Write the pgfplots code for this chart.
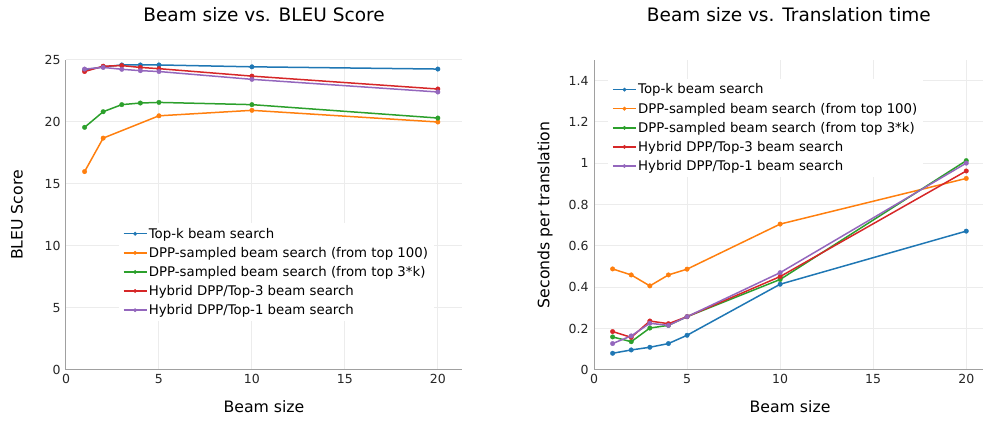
\documentclass[border=0pt]{standalone}
\usepackage{pgfplots}
\pgfplotsset{compat=1.18}
\usepackage{fontspec}
\setmainfont{DejaVu Sans}
\definecolor{cA}{HTML}{1F77B4}
\definecolor{cB}{HTML}{FF7F0E}
\definecolor{cC}{HTML}{2CA02C}
\definecolor{cD}{HTML}{D62728}
\definecolor{cE}{HTML}{9467BD}
\definecolor{gridc}{RGB}{236,236,236}
\definecolor{axc}{RGB}{160,160,160}
\pgfplotsset{
  common/.style={
    scale only axis, height=310pt,
    axis x line=bottom, axis y line=left,
    axis line style={color=axc, line width=1pt, -},
    major tick length=0pt,
    grid=major, major grid style={color=gridc, line width=1pt},
    tick label style={font=\fontsize{12.5}{14}\selectfont, text=black!85},
    /pgf/number format/assume math mode=true,
    xmin=0, ymin=0,
    xtick={0,5,10,15,20},
    xticklabel style={yshift=-1pt},
    yticklabel style={xshift=-2pt},
    label style={font=\fontsize{15.7}{18}\selectfont},
    title style={font=\fontsize{18.5}{21}\selectfont, anchor=center},
    every axis plot/.append style={line width=1.5pt, mark=*, mark size=2.3pt, mark options={line width=0.3pt}},
    legend cell align=left,
    legend image code/.code={\draw[#1] (0pt,0pt) -- (23pt,0pt); \draw[#1, only marks, mark size=1.8pt] plot coordinates {(11.5pt,0pt)};},
    legend style={draw=none, fill=white, font=\fontsize{13.3}{15}\selectfont, row sep=3.5pt, inner xsep=4pt, inner ysep=3pt,
      nodes={inner xsep=1.5pt}},
  }
}
\begin{document}
\begin{tikzpicture}
\useasboundingbox (0,0) rectangle (983pt,428pt);
\begin{axis}[common, at={(66pt,58pt)}, anchor=south west, width=396pt,
  xmax=21.3, ymax=25, ytick={0,5,10,15,20,25},
  title={Beam size vs. BLEU Score}, title style={at={(axis description cs:0.5,1.128)}},
  xlabel={Beam size}, xlabel style={at={(axis description cs:0.5,-0.119)}, anchor=center},
  ylabel={BLEU Score}, ylabel style={at={(axis description cs:-0.124,0.5)}, anchor=center},
  legend style={at={(axis description cs:0.133,0.475)}, anchor=north west}]
\addplot[color=cA] coordinates {(1,24.2) (2,24.45) (3,24.6) (4,24.6) (5,24.6) (10,24.45) (20,24.27)};
\addplot[color=cB] coordinates {(1,16.0) (2,18.7) (5,20.5) (10,20.94) (20,20.0)};
\addplot[color=cC] coordinates {(1,19.57) (2,20.83) (3,21.4) (4,21.53) (5,21.58) (10,21.4) (20,20.32)};
\addplot[color=cD] coordinates {(1,24.07) (2,24.5) (3,24.55) (4,24.4) (5,24.3) (10,23.7) (20,22.66)};
\addplot[color=cE] coordinates {(1,24.27) (2,24.4) (3,24.25) (4,24.14) (5,24.07) (10,23.44) (20,22.42)};
\legend{Top-k beam search, DPP-sampled beam search (from top 100), DPP-sampled beam search (from top 3*k), Hybrid DPP/Top-3 beam search, Hybrid DPP/Top-1 beam search}
\end{axis}
\begin{axis}[common, at={(594pt,58pt)}, anchor=south west, width=389pt,
  xmax=20.9, ymax=1.5, ytick={0,0.2,0.4,0.6,0.8,1,1.2,1.4},
  yticklabel style={/pgf/number format/.cd, fixed, precision=1},
  title={Beam size vs. Translation time}, title style={at={(axis description cs:0.501,1.128)}},
  xlabel={Beam size}, xlabel style={at={(axis description cs:0.504,-0.119)}, anchor=center},
  ylabel={Seconds per translation}, ylabel style={at={(axis description cs:-0.126,0.5)}, anchor=center},
  legend style={at={(axis description cs:0.036,0.94)}, anchor=north west}]
\addplot[color=cA] coordinates {(1,0.081) (2,0.097) (3,0.110) (4,0.128) (5,0.168) (10,0.415) (20,0.672)};
\addplot[color=cB] coordinates {(1,0.489) (2,0.460) (3,0.407) (4,0.460) (5,0.488) (10,0.706) (20,0.927)};
\addplot[color=cC] coordinates {(1,0.160) (2,0.137) (3,0.203) (4,0.216) (5,0.258) (10,0.438) (20,1.013)};
\addplot[color=cD] coordinates {(1,0.186) (2,0.158) (3,0.237) (4,0.224) (5,0.258) (10,0.452) (20,0.963)};
\addplot[color=cE] coordinates {(1,0.128) (2,0.165) (3,0.226) (4,0.216) (5,0.258) (10,0.471) (20,1.001)};
\legend{Top-k beam search, DPP-sampled beam search (from top 100), DPP-sampled beam search (from top 3*k), Hybrid DPP/Top-3 beam search, Hybrid DPP/Top-1 beam search}
\end{axis}
\end{tikzpicture}
\end{document}
